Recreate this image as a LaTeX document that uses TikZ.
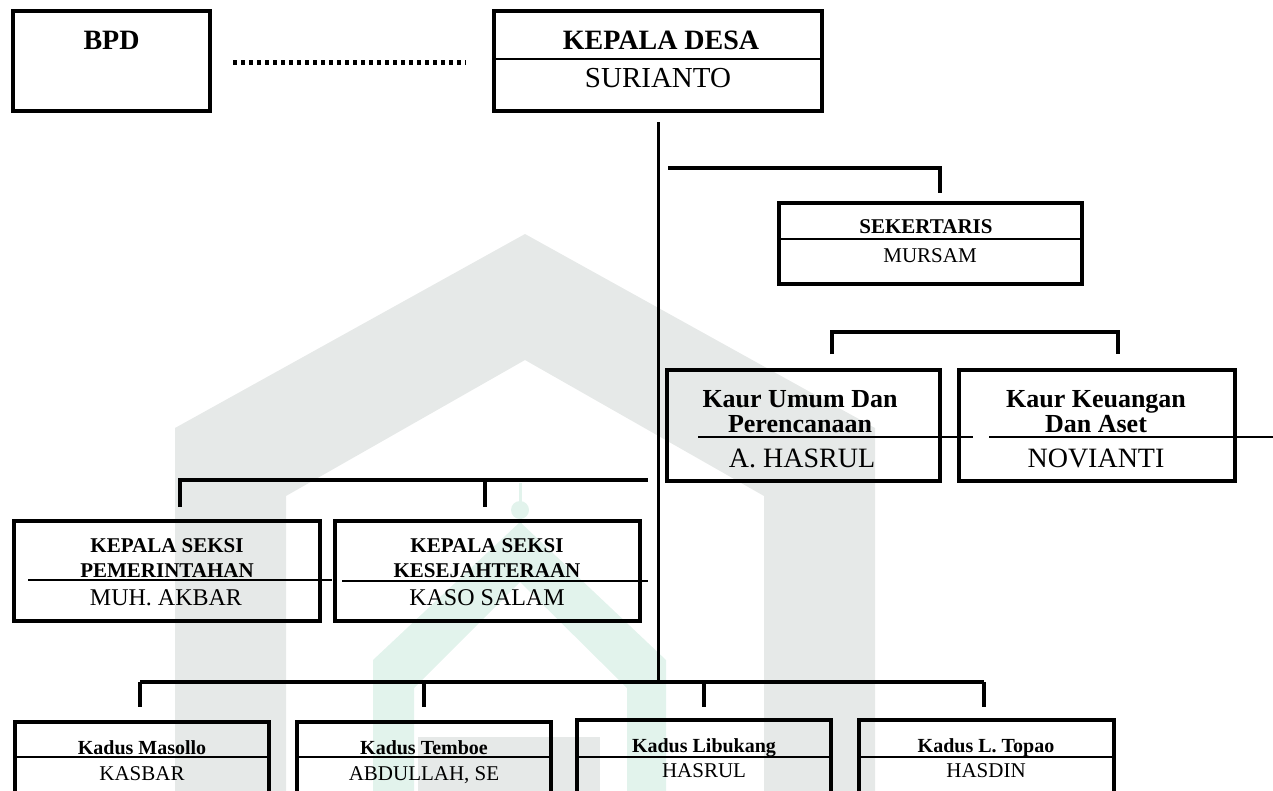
\documentclass[tikz,border=0pt]{standalone}
\usepackage{fontspec}
\setmainfont{Liberation Serif}
\definecolor{wmgray}{RGB}{230,233,232}
\definecolor{wmgreen}{RGB}{226,243,236}
\tikzset{
  orgbox/.style={draw=black, line width=4pt, inner sep=0pt},
  divline/.style={line width=1.8pt},
  conn/.style={line width=4pt},
  trunk/.style={line width=3pt},
  dotconn/.style={line width=5pt, dash pattern=on 4pt off 4pt},
  ttl/.style={anchor=base, inner sep=0pt, font=\bfseries},
  nm/.style={anchor=base, inner sep=0pt},
}
\newcommand{\fs}[1]{\fontsize{#1}{#1}\selectfont}
\begin{document}
\begin{tikzpicture}[x=1pt,y=-1pt]
\useasboundingbox (0,0) rectangle (1273,790);
\clip (0,0) rectangle (1273,790);
% watermark
\fill[wmgray, even odd rule] (175,800) -- (175,428) -- (525,234) -- (875,428) -- (875,800) -- cycle
  (286,800) -- (286,496) -- (525,360) -- (764,496) -- (764,800) -- cycle;
\fill[wmgreen, even odd rule] (373,800) -- (373,660) -- (520,522) -- (666,660) -- (666,800) -- cycle
  (414,800) -- (414,688) -- (520,582) -- (627,688) -- (627,800) -- cycle;
\fill[wmgreen] (520,510) circle (9);
\draw[wmgreen, line width=3pt] (520,483) -- (520,530);
\fill[wmgray] (418,737) rectangle (600,800);

% top row
\node[orgbox, minimum width=197pt, minimum height=100pt] (bpd) at (111.5,61) {};
\node[ttl, font=\bfseries\fs{28}] (bpdt) at (111.5,49) {BPD};
\node[orgbox, minimum width=328pt, minimum height=100pt] (kades) at (658,61) {};
\draw[divline] (kades.west |- 0,59) -- (kades.east |- 0,59);
\node[ttl, font=\bfseries\fs{28}] (kadest) at (661,49) {KEPALA DESA};
\node[nm, font=\fs{29}] (kadesn) at (658,87) {SURIANTO};
\coordinate (dotL) at (233,62);
\coordinate (dotR) at (466,62);
\draw[dotconn] (dotL) -- (dotR);

% trunk
\coordinate (tr1) at (658,122);
\coordinate (tr2) at (658,684);
\draw[trunk] (tr1) -- (tr2);

% sekertaris
\coordinate (s1) at (668,168);
\coordinate (s2) at (940,168);
\coordinate (s3) at (940,193);
\draw[conn] (s1) -- (s2) -- (s3);
\node[orgbox, minimum width=303pt, minimum height=81pt] (sek) at (930.5,243.5) {};
\draw[divline] (sek.west |- 0,239) -- (sek.east |- 0,239);
\node[ttl, font=\bfseries\fs{21}] (sekt) at (926,233) {SEKERTARIS};
\node[nm, font=\fs{21}] (sekn) at (930,262) {MURSAM};

% kaur
\coordinate (k1) at (832,354);
\coordinate (k2) at (832,332);
\coordinate (k3) at (1118,332);
\coordinate (k4) at (1118,354);
\draw[conn] (k1) -- (k2) -- (k3) -- (k4);
\node[orgbox, minimum width=273pt, minimum height=111pt] (kum) at (803.5,425.5) {};
\node[orgbox, minimum width=276pt, minimum height=111pt] (kke) at (1097,425.5) {};
\coordinate (ku1) at (698,437);
\coordinate (ku2) at (973,437);
\coordinate (kk1) at (989,437);
\coordinate (kk2) at (1273,437);
\draw[divline] (ku1) -- (ku2);
\draw[divline] (kk1) -- (kk2);
\node[ttl, font=\bfseries\fs{26}] (kumt1) at (800,407) {Kaur Umum Dan};
\node[ttl, font=\bfseries\fs{26}] (kumt2) at (800,432) {Perencanaan};
\node[nm, font=\fs{28}] (kumn) at (802,467) {A. HASRUL};
\node[ttl, font=\bfseries\fs{26}] (kket1) at (1096,407) {Kaur Keuangan};
\node[ttl, font=\bfseries\fs{26}] (kket2) at (1096,432) {Dan Aset};
\node[nm, font=\fs{28}] (kken) at (1096,467) {NOVIANTI};

% kepala seksi
\coordinate (ls1) at (180,507);
\coordinate (ls2) at (180,480);
\coordinate (ls3) at (648,480);
\coordinate (lm1) at (485,480);
\coordinate (lm2) at (485,507);
\draw[conn] (ls1) -- (ls2) -- (ls3);
\draw[conn] (lm1) -- (lm2);
\node[orgbox, minimum width=306pt, minimum height=100pt] (ksp) at (167,571) {};
\node[orgbox, minimum width=305pt, minimum height=100pt] (ksk) at (487.5,571) {};
\coordinate (kp1) at (28,580);
\coordinate (kp2) at (332,580);
\coordinate (kq1) at (342,581);
\coordinate (kq2) at (648,581);
\draw[divline] (kp1) -- (kp2);
\draw[divline] (kq1) -- (kq2);
\node[ttl, font=\bfseries\fs{21}] (kspt1) at (167,552) {KEPALA SEKSI};
\node[ttl, font=\bfseries\fs{21}] (kspt2) at (167,577) {PEMERINTAHAN};
\node[nm, font=\fs{24}] (kspn) at (166,605) {MUH. AKBAR};
\node[ttl, font=\bfseries\fs{21}] (kskt1) at (487,552) {KEPALA SEKSI};
\node[ttl, font=\bfseries\fs{21}] (kskt2) at (487,577) {KESEJAHTERAAN};
\node[nm, font=\fs{24}] (kskn) at (487,605) {KASO SALAM};

% kadus
\coordinate (b1) at (140,682);
\coordinate (b4) at (984,682);
\draw[conn] (b1) -- (b4);
\foreach \x/\n in {140/d1,424/d2,704/d3,984/d4}{
  \coordinate (\n a) at (\x,682);
  \coordinate (\n b) at (\x,707);
  \draw[conn] (\n a) -- (\n b);
}
\node[orgbox, minimum width=254pt, minimum height=80pt] (kd1) at (142,762) {};
\node[orgbox, minimum width=254pt, minimum height=80pt] (kd2) at (424,762) {};
\node[orgbox, minimum width=254pt, minimum height=82pt] (kd3) at (704,761) {};
\node[orgbox, minimum width=255pt, minimum height=82pt] (kd4) at (986.5,761) {};
\foreach \n in {kd1,kd2,kd3,kd4}{
  \draw[divline] (\n.west |- 0,757) -- (\n.east |- 0,757);
}
\node[ttl, font=\bfseries\fs{20}] (kd1t) at (142,754) {Kadus Masollo};
\node[nm, font=\fs{21}] (kd1n) at (142,780) {KASBAR};
\node[ttl, font=\bfseries\fs{20}] (kd2t) at (424,754) {Kadus Temboe};
\node[nm, font=\fs{21}] (kd2n) at (424,780) {ABDULLAH, SE};
\node[ttl, font=\bfseries\fs{20}] (kd3t) at (704,752) {Kadus Libukang};
\node[nm, font=\fs{21}] (kd3n) at (704,777) {HASRUL};
\node[ttl, font=\bfseries\fs{20}] (kd4t) at (986,752) {Kadus L. Topao};
\node[nm, font=\fs{21}] (kd4n) at (986,777) {HASDIN};
\end{tikzpicture}
\end{document}
